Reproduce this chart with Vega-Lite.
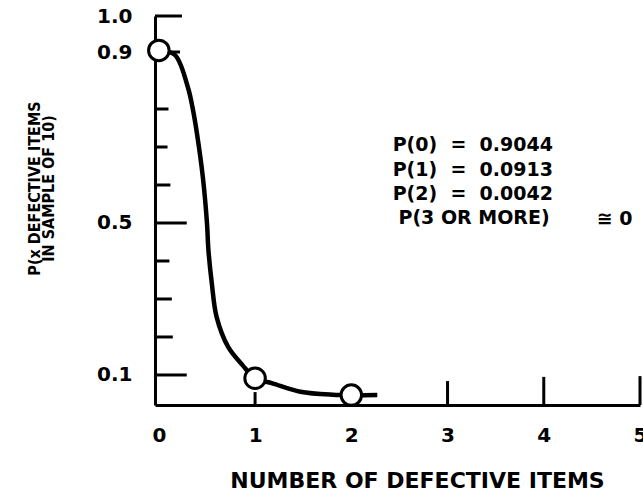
{
  "$schema": "https://vega.github.io/schema/vega-lite/v6.json",
  "width": 485,
  "height": 389,
  "autosize": {"type": "none"},
  "padding": {"left": 155, "top": 16, "right": 3, "bottom": 86},
  "background": "white",
  "config": {
    "view": {"stroke": null},
    "axis": {"domainColor": "black", "domainWidth": 3, "labelColor": "black", "titleColor": "black", "grid": false, "ticks": false, "labelFlush": false, "labelBound": false, "labelOverlap": false}
  },
  "datasets": {
    "curve": [
      {"x": 0, "y": 0.9044},
      {"x": 0.166, "y": 0.895},
      {"x": 0.3, "y": 0.839},
      {"x": 0.353, "y": 0.8},
      {"x": 0.395, "y": 0.737},
      {"x": 0.457, "y": 0.621},
      {"x": 0.5, "y": 0.5},
      {"x": 0.515, "y": 0.429},
      {"x": 0.55, "y": 0.342},
      {"x": 0.6, "y": 0.253},
      {"x": 0.72, "y": 0.174},
      {"x": 0.87, "y": 0.126},
      {"x": 1.0, "y": 0.0913},
      {"x": 1.18, "y": 0.078},
      {"x": 1.47, "y": 0.056},
      {"x": 1.81, "y": 0.048},
      {"x": 2.03, "y": 0.047},
      {"x": 2.27, "y": 0.047}
    ],
    "points": [
      {"x": 0, "y": 0.9044},
      {"x": 1, "y": 0.0913},
      {"x": 2, "y": 0.047}
    ],
    "yticks": [
      {"y": 0.1, "len": 0.29},
      {"y": 0.2, "len": 0.145},
      {"y": 0.3, "len": 0.135},
      {"y": 0.4, "len": 0.11},
      {"y": 0.5, "len": 0.29},
      {"y": 0.6, "len": 0.12},
      {"y": 0.7, "len": 0.09},
      {"y": 0.8, "len": 0.1},
      {"y": 0.9, "len": 0.22},
      {"y": 1.0, "len": 0.24}
    ],
    "xticks": [
      {"x": 1, "top": 0.055},
      {"x": 3, "top": 0.084},
      {"x": 4, "top": 0.095},
      {"x": 5, "top": 0.097}
    ]
  },
  "layer": [
    {
      "data": {"name": "yticks"},
      "mark": {"type": "rule", "color": "black", "strokeWidth": 3},
      "encoding": {
        "y": {
          "field": "y", "type": "quantitative",
          "scale": {"domain": [0.021, 0.8, 0.9, 1.0], "range": [389, 93, 36, 0], "zero": false, "nice": false},
          "axis": {
            "values": [0.1, 0.5, 0.9, 1.0],
            "format": ".1f",
            "labelPadding": 23,
            "labelFont": "DejaVu Sans",
            "labelFontWeight": "bold",
            "labelFontSize": 20,
            "title": ["P(x DEFECTIVE ITEMS", "IN SAMPLE OF 10)"],
            "titleFont": "DejaVu Sans Condensed",
            "titleFontWeight": "bold",
            "titleFontSize": 16,
            "titleLineHeight": 14.5,
            "titleAngle": 270,
            "titleAlign": "center",
            "titleBaseline": "middle",
            "titleX": -121,
            "titleY": 172
          }
        },
        "x": {
          "field": "len", "type": "quantitative",
          "scale": {"domain": [-0.04, 5], "zero": false, "nice": false},
          "axis": {
            "values": [0, 1, 2, 3, 4, 5],
            "format": "d",
            "labelPadding": 20,
            "labelFont": "DejaVu Sans",
            "labelFontWeight": "bold",
            "labelFontSize": 20,
            "title": "NUMBER OF DEFECTIVE ITEMS",
            "titleFont": "DejaVu Sans",
            "titleFontWeight": "bold",
            "titleFontSize": 22,
            "titleAlign": "center",
            "titleBaseline": "middle",
            "titleX": 262,
            "titleY": 75
          }
        },
        "x2": {"datum": -0.04}
      }
    },
    {
      "data": {"name": "xticks"},
      "mark": {"type": "rule", "color": "black", "strokeWidth": 3},
      "encoding": {
        "x": {"field": "x", "type": "quantitative"},
        "y": {"field": "top", "type": "quantitative"},
        "y2": {"datum": 0.021}
      }
    },
    {
      "data": {"name": "curve"},
      "mark": {"type": "line", "color": "black", "strokeWidth": 4.5, "interpolate": "catmull-rom"},
      "encoding": {
        "x": {"field": "x", "type": "quantitative"},
        "y": {"field": "y", "type": "quantitative"}
      }
    },
    {
      "data": {"name": "points"},
      "mark": {"type": "point", "shape": "circle", "filled": false, "fill": "white", "fillOpacity": 1, "stroke": "black", "strokeWidth": 3, "size": 420, "opacity": 1},
      "encoding": {
        "x": {"field": "x", "type": "quantitative"},
        "y": {"field": "y", "type": "quantitative"}
      }
    },
    {
      "data": {"values": [{"t": 1}]},
      "mark": {
        "type": "text",
        "text": ["P(0)\u00a0\u00a0=\u00a0\u00a00.9044", "P(1)\u00a0\u00a0=\u00a0\u00a00.0913", "P(2)\u00a0\u00a0=\u00a0\u00a00.0042"],
        "font": "DejaVu Sans",
        "fontWeight": "bold",
        "fontSize": 19,
        "lineHeight": 24.5,
        "align": "left",
        "baseline": "middle",
        "color": "black"
      },
      "encoding": {
        "x": {"datum": 2.43},
        "y": {"datum": 0.705}
      }
    },
    {
      "data": {"values": [{"t": 1}]},
      "mark": {
        "type": "text",
        "text": "P(3 OR MORE)",
        "font": "DejaVu Sans",
        "fontWeight": "bold",
        "fontSize": 19,
        "align": "left",
        "baseline": "middle",
        "color": "black"
      },
      "encoding": {
        "x": {"datum": 2.49},
        "y": {"datum": 0.514}
      }
    },
    {
      "data": {"values": [{"t": 1}]},
      "mark": {
        "type": "text",
        "text": "\u2245\u00a00",
        "font": "DejaVu Sans",
        "fontWeight": "bold",
        "fontSize": 19,
        "align": "left",
        "baseline": "middle",
        "color": "black"
      },
      "encoding": {
        "x": {"datum": 4.55},
        "y": {"datum": 0.51}
      }
    }
  ]
}
